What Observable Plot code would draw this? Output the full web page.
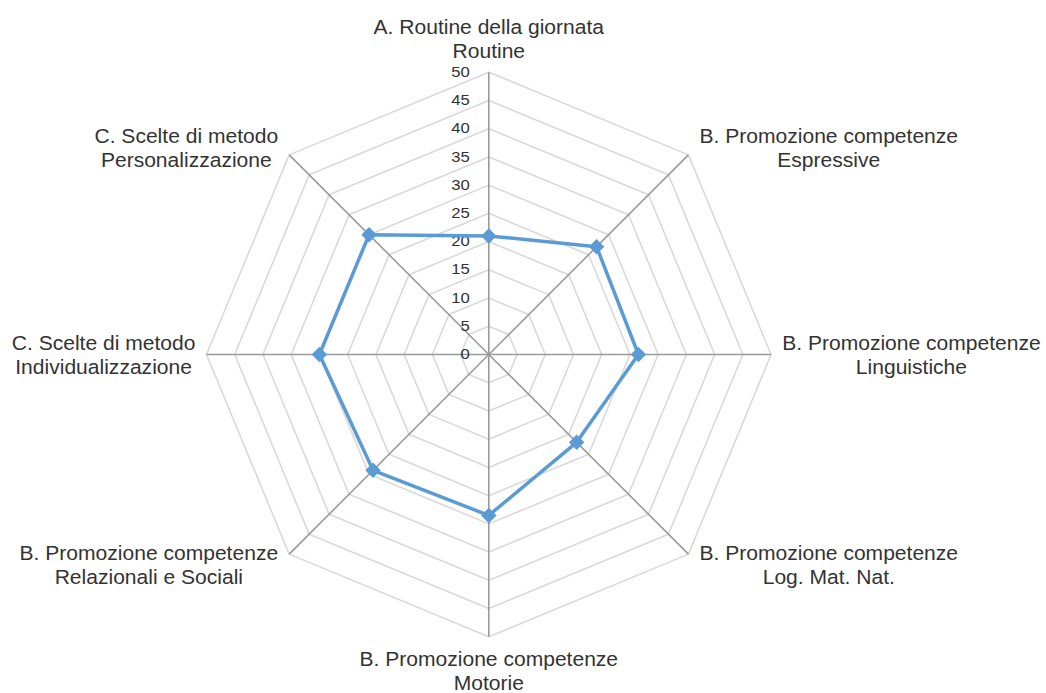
<!DOCTYPE html>
<html>
<head>
<meta charset="utf-8">
<script src="https://cdn.jsdelivr.net/npm/d3@7"></script>
<script src="https://cdn.jsdelivr.net/npm/@observablehq/plot@0.6"></script>
<style>
  html, body { margin: 0; padding: 0; background: #fff; }
  #chart { width: 1046px; height: 693px; }
</style>
</head>
<body>
<div id="chart"></div>
<script>
// ---- Data ----
const categories = [
  "A. Routine della giornata\nRoutine",
  "B. Promozione competenze\nEspressive",
  "B. Promozione competenze\nLinguistiche",
  "B. Promozione competenze\nLog. Mat. Nat.",
  "B. Promozione competenze\nMotorie",
  "B. Promozione competenze\nRelazionali e Sociali",
  "C. Scelte di metodo\nIndividualizzazione",
  "C. Scelte di metodo\nPersonalizzazione"
];
const values = [21, 27, 26.5, 22, 28.5, 29, 30, 30];
const tickValues = [0, 5, 10, 15, 20, 25, 30, 35, 40, 45, 50];
const maxValue = 50;

// ---- Layout ----
const W = 1046, H = 693;
const cx = 488.3, cy = 354;          // centre in pixels
const R = 282.3;                      // pixel radius of the 50 ring
const k = R / maxValue;               // pixels per unit
const n = categories.length;
const angle = i => (2 * Math.PI * i) / n; // clockwise from top
const polar = (i, r) => ({x: r * Math.sin(angle(i)), y: r * Math.cos(angle(i))});

const labelFont = 19.5, labelScale = 1.08;
const tickFont = 14.5, tickScale = 1.15;
const textColor = "#333333";
const fontFamily = "'Liberation Sans', Arial, sans-serif";

// grid rings (skip 0)
const rings = [];
tickValues.filter(t => t > 0).forEach(t => {
  for (let i = 0; i <= n; i++) rings.push({ring: t, ...polar(i % n, t)});
});
// spokes
const spokes = categories.map((c, i) => ({x1: 0, y1: 0, x2: polar(i, maxValue).x, y2: polar(i, maxValue).y}));
// series
const series = [];
for (let i = 0; i <= n; i++) series.push({cat: categories[i % n], v: values[i % n], ...polar(i % n, values[i % n])});

// measure label widths
const ctx = document.createElement("canvas").getContext("2d");
ctx.font = `${labelFont}px ${fontFamily}`;
const labels = categories.map((c, i) => {
  const w = Math.max(...c.split("\n").map(s => ctx.measureText(s).width)) * labelScale;
  const tip = polar(i, maxValue);
  const s = Math.sin(angle(i)), co = Math.cos(angle(i));
  let dxp, dyp;
  if (Math.abs(s) < 0.01) { dxp = 0; dyp = co * 34; }
  else { dxp = Math.sign(s) * (w / 2 + 11); dyp = Math.abs(co) < 0.01 ? 0 : (co > 0 ? 8 : -10); }
  return {text: c, x: tip.x + dxp / k, y: tip.y + dyp / k};
});

const plot = Plot.plot({
  width: W,
  height: H,
  marginTop: 0, marginRight: 0, marginBottom: 0, marginLeft: 0,
  x: {domain: [-cx / k, (W - cx) / k], range: [0, W], axis: null},
  y: {domain: [-(H - cy) / k, cy / k], range: [H, 0], axis: null},
  style: {fontFamily, background: "#fff", overflow: "visible"},
  marks: [
    Plot.line(rings, {x: "x", y: "y", z: "ring", stroke: "#d9d9d9", strokeWidth: 1.6}),
    Plot.link(spokes, {x1: "x1", y1: "y1", x2: "x2", y2: "y2", stroke: "#9a9a9a", strokeWidth: 1.6}),
    Plot.text(tickValues, {x: 0, y: d => d, text: d => String(d), textAnchor: "end", dx: -19,
      fontSize: tickFont, fill: textColor, className: "tick-label"}),
    Plot.line(series, {x: "x", y: "y", stroke: "#5b9bd5", strokeWidth: 3.5, strokeLinejoin: "round"}),
    Plot.dot(series.slice(0, n), {x: "x", y: "y", symbol: "diamond2", r: 6, fill: "#5b9bd5", stroke: "#5b9bd5"}),
    Plot.text(labels, {x: "x", y: "y", text: "text", textAnchor: "middle", lineAnchor: "middle",
      lineHeight: 1.23, fontSize: labelFont, fill: textColor, className: "cat-label"})
  ]
});

// widen text horizontally to match the reference rendering
plot.querySelectorAll(".cat-label text").forEach(t => {
  t.setAttribute("transform", (t.getAttribute("transform") || "") + ` scale(${labelScale},1)`);
});
plot.querySelectorAll(".tick-label text").forEach(t => {
  t.setAttribute("transform", (t.getAttribute("transform") || "") + ` scale(${tickScale},1)`);
});

document.getElementById("chart").appendChild(plot);
</script>
</body>
</html>
